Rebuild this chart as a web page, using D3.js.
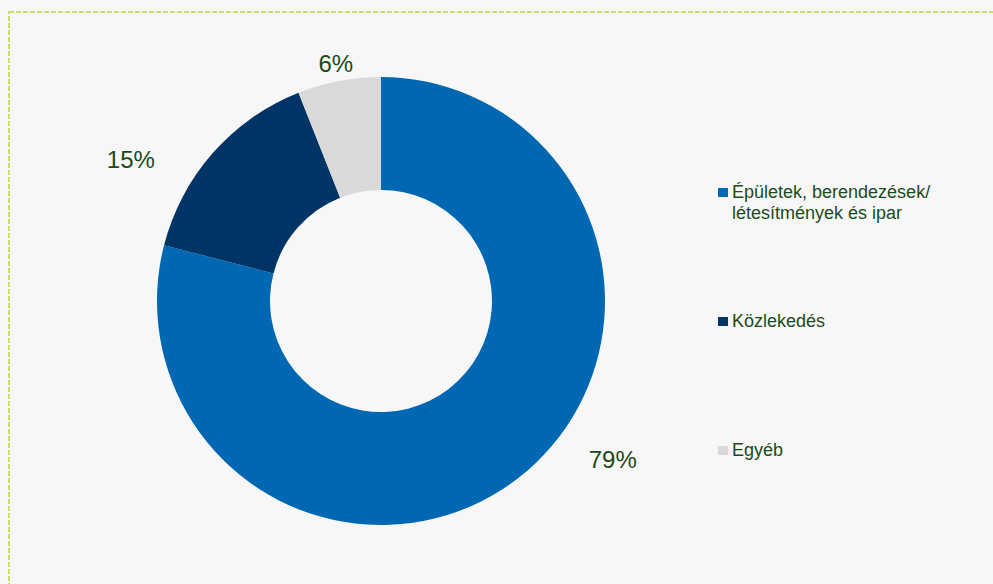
<!DOCTYPE html>
<html lang="hu">
<head>
<meta charset="UTF-8">
<title>Donut</title>
<script src="https://cdn.jsdelivr.net/npm/d3@7"></script>
<style>
    html, body { margin: 0; padding: 0; background: #f7f7f7; }
    svg { display: block; font-family: "Liberation Sans", Arial, sans-serif; }
</style>
</head>
<body>
<div id="chart"></div>
<script>
    var categories = ['Épületek, berendezések/ létesítmények és ipar', 'Közlekedés', 'Egyéb'];
    var legendLines = [['Épületek, berendezések/', 'létesítmények és ipar'], ['Közlekedés'], ['Egyéb']];
    var values = [79, 15, 6];
    var labels = ['79%', '15%', '6%'];
    var colors = ['#0068b3', '#003466', '#d9d9d9'];

    var W = 993, H = 584;
    var cx = 381, cy = 301, rOut = 224, rIn = 111;
    var textColor = '#1b4a1b';

    var svg = d3.select('#chart')
            .append('svg')
            .attr('width', W)
            .attr('height', H);

    // dashed frame (only top and left show)
    svg.append('rect')
            .attr('x', 9).attr('y', 12)
            .attr('width', 1100).attr('height', 700)
            .attr('fill', '#f7f7f7')
            .attr('stroke', '#c6e070')
            .attr('stroke-width', 2)
            .attr('stroke-dasharray', '5,2');

    var pie = d3.pie().sort(null).value(function(d){ return d; });
    var arcs = pie(values);
    var arc = d3.arc().innerRadius(rIn).outerRadius(rOut);

    var g = svg.append('g').attr('transform', 'translate(' + cx + ',' + cy + ')');

    g.selectAll('path')
            .data(arcs)
            .enter()
            .append('path')
            .attr('d', arc)
            .attr('fill', function(d, i){ return colors[i]; });

    // labels sit outside the ring; angle nudges (radians) match the original placement
    var labelR = [281, 287, 241];
    var labelNudge = [-0.31, -0.21, 0.0];
    function labelAngle(d, i){ return (d.startAngle + d.endAngle) / 2 + labelNudge[i]; }

    g.selectAll('text.lbl')
            .data(arcs)
            .enter()
            .append('text')
            .attr('class', 'lbl')
            .attr('x', function(d, i){ return Math.sin(labelAngle(d, i)) * labelR[i]; })
            .attr('y', function(d, i){ return -Math.cos(labelAngle(d, i)) * labelR[i] + 8; })
            .attr('text-anchor', 'middle')
            .attr('font-size', 24)
            .attr('fill', textColor)
            .text(function(d, i){ return labels[i]; });

    // legend
    var legendY = d3.scalePoint().domain(d3.range(categories.length)).range([198, 456]);
    var lg = svg.append('g').selectAll('g')
            .data(categories)
            .enter()
            .append('g')
            .attr('transform', function(d, i){ return 'translate(718,' + legendY(i) + ')'; });

    lg.append('rect')
            .attr('x', 0).attr('y', -10)
            .attr('width', 10).attr('height', 9)
            .attr('fill', function(d, i){ return colors[i]; });

    lg.append('text')
            .attr('x', 14)
            .attr('font-size', 18)
            .attr('fill', textColor)
            .selectAll('tspan')
            .data(function(d, i){ return legendLines[i]; })
            .enter()
            .append('tspan')
            .attr('x', 14)
            .attr('dy', function(d, j){ return j === 0 ? 0 : 21; })
            .text(function(d){ return d; });
</script>
</body>
</html>
